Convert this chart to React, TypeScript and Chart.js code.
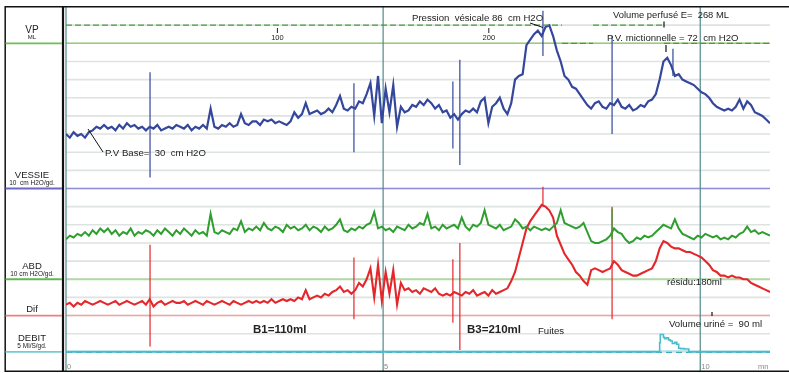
import React, { useEffect, useRef } from "react";
import { Chart, registerables } from "chart.js";

Chart.register(...registerables);

// ---- time base (minutes) ----
const DT = 0.06;
const T_MAX = 11.1;
const VOL_RATE = 30; // ml perfused per minute (top volume scale)

// ---- VESSIE pressure, cm H2O (one value every DT minutes) ----
const VESSIE = [
  30, 28, 31, 29, 30, 28, 31, 32, 34, 33,
  35, 33, 34, 32, 35, 33, 36, 34, 35, 33,
  34, 32, 34, 33, 35, 32, 33, 34, 33, 35,
  34, 33, 35, 32, 34, 33, 35, 33, 44, 34,
  33, 35, 34, 36, 34, 35, 41, 36, 35, 37,
  37, 35, 38, 37, 38, 36, 37, 36, 35, 37,
  42, 39, 41, 47, 41, 42, 43, 41, 42, 44,
  42, 46, 51, 44, 43, 45, 44, 48, 47, 52,
  58, 40, 62, 36, 55, 42, 57, 34, 45, 42,
  43, 46, 45, 48, 46, 49, 47, 44, 46, 42,
  43, 39, 41, 38, 41, 43, 42, 44, 42, 48,
  50, 36, 45, 47, 50, 44, 41, 47, 60, 62,
  63, 79, 82, 85, 87, 84, 89, 90, 84, 76,
  70, 62, 60, 56, 55, 52, 49, 46, 44, 47,
  48, 45, 44, 47, 46, 49, 45, 44, 46, 43,
  44, 46, 45, 48, 49, 52, 60, 70, 72, 68,
  62, 63, 60, 59, 58, 57, 55, 53, 52, 50,
  47, 45, 44, 43, 44, 43, 45, 49, 44, 48,
  46, 42, 41, 40, 38, 36,
];

// ---- ABD pressure, cm H2O ----
const ABD = [
  22, 24, 23, 25, 24, 26, 24, 27, 25, 28,
  26, 28, 25, 27, 24, 26, 25, 28, 24, 26,
  25, 27, 26, 24, 27, 25, 28, 26, 24, 27,
  25, 28, 26, 24, 27, 25, 26, 24, 36, 26,
  25, 27, 26, 25, 28, 27, 32, 26, 28, 27,
  29, 27, 31, 28, 27, 29, 28, 26, 30, 28,
  29, 27, 28, 30, 27, 29, 28, 26, 29, 27,
  28, 30, 33, 27, 26, 28, 27, 29, 28, 30,
  31, 37, 28, 29, 27, 28, 26, 29, 28, 27,
  30, 28, 29, 31, 30, 36, 28, 29, 27, 30,
  28, 29, 30, 28, 34, 29, 27, 30, 29, 31,
  38, 30, 29, 28, 30, 27, 28, 29, 33, 31,
  28, 29, 27, 29, 28, 27, 28, 27, 29, 31,
  38, 31, 30, 29, 28, 29, 31, 26, 21, 20,
  20, 21, 22, 24, 28, 26, 25, 22, 20, 21,
  23, 22, 24, 23, 24, 26, 28, 30, 29, 28,
  33, 28, 25, 24, 23, 22, 24, 23, 25, 24,
  23, 24, 22, 23, 22, 24, 23, 25, 26, 29,
  26, 27, 25, 26, 25, 24,
];

// ---- Dif (vesical - abdominal), cm H2O ----
const DIF = [
  6, 7, 5, 7, 6, 8, 7, 6, 7, 8,
  7, 6, 7, 8, 6, 7, 8, 7, 6, 7,
  8, 6, 9, 5, 7, 8, 6, 7, 8, 7,
  7, 8, 6, 7, 8, 7, 6, 8, 7, 6,
  7, 8, 7, 6, 8, 7, 6, 7, 8, 7,
  8, 7, 8, 7, 9, 7, 8, 9, 8, 9,
  8, 10, 9, 14, 9, 10, 11, 10, 12, 11,
  13, 14, 16, 13, 14, 12, 14, 18, 16, 20,
  26, 10, 28, 8, 24, 12, 25, 6, 18, 14,
  15, 13, 14, 12, 15, 14, 13, 15, 12, 11,
  12, 11, 13, 12, 11, 13, 12, 14, 11, 12,
  13, 11, 14, 12, 13, 14, 15, 19, 24, 32,
  40, 48, 52, 55, 58, 61, 60, 58, 54, 44,
  39, 34, 31, 28, 24, 22, 19, 17, 25, 26,
  25, 24, 25, 26, 30, 28, 25, 24, 23, 22,
  22, 23, 24, 25, 26, 30, 37, 41, 40, 38,
  37, 37, 36, 35, 35, 34, 33, 32, 30, 28,
  25, 24, 22, 22, 21, 22, 21, 21, 20, 20,
  18, 17, 16, 15, 14, 13,
];

// ---- DEBIT (flow), ml/s ----
const DEBIT_T = [0, 9.36, 9.37, 9.42, 9.44, 9.47, 9.5, 9.53, 9.56, 9.6, 9.63, 9.66, 9.69, 9.75, 9.82, 9.83, 11.1];
const DEBIT = [0, 0, 2.5, 4.8, 4.0, 3.6, 3.9, 3.3, 3.0, 2.3, 2.6, 2.1, 1.0, 0.9, 0.8, 0, 0];

// ---- artefact spikes (time, low, high) ----
const VES_SPIKE_T = [1.325, 4.54, 6.1, 6.21, 7.52, 8.61, 9.57];
const VES_SPIKE_LO = [6, 20, 22, 13, 73, 30, 62];
const VES_SPIKE_HI = [64, 58, 59, 71, 98, 84, 77];
const DIF_SPIKE_T = [1.325, 4.54, 6.1, 6.21, 7.52, 8.61];
const DIF_SPIKE_LO = [-17, -2, -4, -19, 60, -2];
const DIF_SPIKE_HI = [39, 32, 31, 40, 71, 60];
const ABD_SPIKE_T = [8.61];
const ABD_SPIKE_LO = [22];
const ABD_SPIKE_HI = [39];

// ---- VP (volume) dashed trace: segments in grid rows ----
const VP_T = [0, 7.82, 7.82, 8.31, 8.31, 9.43, 9.43, 11.1];
const VP_ROW = [19, 19, 18, 18, 19, 19, 18, 18];

// ---- tick labels ----
const TIME_TICKS = [0, 5, 10];
const TIME_LABELS = ["0", "5", "10"];
const VOLUME_TICKS = [100, 200];

const FONT = '"Liberation Sans", Arial, Helvetica, sans-serif';

const series = (arr: number[]) => arr.map((v, i) => ({ x: +(i * DT).toFixed(3), y: v }));
const spikes = (ts: number[], lo: number[], hi: number[]) =>
  ts.flatMap((t, i) => [
    { x: t, y: lo[i] },
    { x: t, y: hi[i] },
    { x: t, y: null as any },
  ]);
const segments = (ts: number[], vs: number[]) => {
  const out: any[] = [];
  for (let i = 0; i < ts.length; i += 2) {
    out.push({ x: ts[i], y: vs[i] }, { x: ts[i + 1], y: vs[i + 1] }, { x: ts[i + 1], y: null });
  }
  return out;
};

function line(ctx: CanvasRenderingContext2D, x1: number, y1: number, x2: number, y2: number, color: string, w: number, dash: number[] = []) {
  ctx.save();
  ctx.strokeStyle = color;
  ctx.lineWidth = w;
  ctx.setLineDash(dash);
  ctx.beginPath();
  ctx.moveTo(x1, y1);
  ctx.lineTo(x2, y2);
  ctx.stroke();
  ctx.restore();
}

function text(ctx: CanvasRenderingContext2D, s: string, x: number, y: number, size: number, opts: { align?: CanvasTextAlign; bold?: boolean; color?: string } = {}) {
  ctx.save();
  ctx.font = `${opts.bold ? "bold " : ""}${size}px ${FONT}`;
  ctx.fillStyle = opts.color || "#222";
  ctx.textAlign = opts.align || "left";
  ctx.textBaseline = "middle";
  ctx.fillText(s, x, y);
  ctx.restore();
}

const decor = {
  id: "decor",
  beforeDraw(chart: any) {
    const { ctx } = chart;
    ctx.save();
    ctx.fillStyle = "#fff";
    ctx.fillRect(0, 0, chart.width, chart.height);
    ctx.restore();
  },
  beforeDatasetsDraw(chart: any) {
    const { ctx, chartArea: a, scales } = chart;
    const xs = scales.x;
    const Y = (r: number) => scales.yRow.getPixelForValue(r);
    // row grid
    for (let k = 1; k <= 19; k++) line(ctx, a.left, Y(k), a.right, Y(k), "#dde3e0", 1.6);
    // channel baselines
    line(ctx, a.left, Y(18), a.right, Y(18), "#96d074", 1.6);
    line(ctx, a.left, Y(10), a.right, Y(10), "#8f8fd6", 1.6);
    line(ctx, a.left, Y(5), a.right, Y(5), "#b2d8a6", 1.8);
    line(ctx, a.left, Y(3), a.right, Y(3), "#f2a3a3", 1.6);
    line(ctx, a.left, Y(1) - 1, a.right, Y(1) - 1, "#abdfe8", 1.4);
    line(ctx, a.left, Y(1) + 0.6, a.right, Y(1) + 0.6, "#3aaebf", 1.3, [6, 4]);
    // time verticals
    TIME_TICKS.forEach((t) => {
      const x = xs.getPixelForValue(t);
      line(ctx, x, 7, x, 371, "#4f8888", 1.2);
    });
  },
  afterDatasetsDraw(chart: any) {
    const { ctx, scales } = chart;
    const xs = scales.x;
    const xv = scales.xVol;
    const Y = (r: number) => scales.yRow.getPixelForValue(r);

    // frame
    line(ctx, 5, 6.8, chart.width, 6.8, "#111", 1.6);
    line(ctx, 5, 371.3, chart.width, 371.3, "#111", 1.5);
    line(ctx, 5.2, 6, 5.2, 372, "#111", 1.5);
    line(ctx, 63, 6, 63, 372, "#111", 2.2);

    // left panel channel lines + labels
    const cx = 32;
    line(ctx, 5.5, Y(18), 62, Y(18), "#6cbf52", 1.8);
    line(ctx, 5.5, Y(10), 62, Y(10), "#6a6ac4", 1.8);
    line(ctx, 5.5, Y(5), 62, Y(5), "#62b954", 1.8);
    line(ctx, 5.5, Y(3), 62, Y(3), "#ee8080", 1.8);
    line(ctx, 5.5, Y(1), 62, Y(1), "#72ccd8", 1.8);
    text(ctx, "VP", cx, 30, 10, { align: "center" });
    text(ctx, "ML", cx, 37.5, 6, { align: "center" });
    text(ctx, "VESSIE", cx, 175.5, 9.5, { align: "center" });
    text(ctx, "10  cm H2O/gd.", cx, 183, 6.5, { align: "center" });
    text(ctx, "ABD", cx, 266.5, 9.5, { align: "center" });
    text(ctx, "10 cm H2O/gd.", cx, 274, 6.5, { align: "center" });
    text(ctx, "Dif", cx, 309, 9.5, { align: "center" });
    text(ctx, "DEBIT", cx, 338.5, 9.5, { align: "center" });
    text(ctx, "5 Ml/S/gd.", cx, 346, 6.5, { align: "center" });

    // top volume scale
    VOLUME_TICKS.forEach((v) => {
      const x = xv.getPixelForValue(v);
      line(ctx, x, 28, x, 33, "#222", 1);
      text(ctx, String(v), x, 37.5, 7.5, { align: "center" });
    });

    // time labels
    TIME_TICKS.forEach((t, i) => {
      const x = xs.getPixelForValue(t);
      text(ctx, TIME_LABELS[i], x + 1, 366.5, 7.5, { color: "#8a8a8a" });
    });
    text(ctx, "mn", 758, 366.5, 7.5, { color: "#8a8a8a" });

    // annotations
    text(ctx, "Pression  vésicale 86  cm H2O", 412, 18, 9.6);
    line(ctx, 530, 23, 543, 27.5, "#111", 1);
    text(ctx, "Volume perfusé E=  268 ML", 613, 15, 9.4);
    line(ctx, 664, 21.5, 664, 27.5, "#111", 1.2);
    text(ctx, "P.V. mictionnelle = 72  cm H2O", 607, 38.5, 9.6);
    line(ctx, 666, 45, 666, 52, "#111", 1.2);
    text(ctx, "P.V Base=  30  cm H2O", 105, 153, 9.6);
    line(ctx, 88, 129, 103, 152, "#111", 1);
    text(ctx, "B1=110ml", 253, 330, 11.5, { bold: true });
    text(ctx, "B3=210ml", 467, 330, 11.5, { bold: true });
    text(ctx, "Fuites", 538, 331, 9.6);
    text(ctx, "Volume uriné =  90 ml", 669, 324, 9.6);
    line(ctx, 712, 312, 712, 316, "#111", 1.2);
    text(ctx, "résidu:180ml", 667, 282.5, 9.6);
  },
};

export default function App() {
  const ref = useRef<HTMLCanvasElement | null>(null);
  useEffect(() => {
    if (!ref.current) return;
    const common = { pointRadius: 0, tension: 0, fill: false, spanGaps: false };
    const chart = new Chart(ref.current, {
      type: "line",
      data: {
        datasets: [
          { ...common, data: segments(VP_T, VP_ROW), yAxisID: "yRow", borderColor: "#4a9a3c", borderWidth: 1.3, borderDash: [6, 3] },
          { ...common, data: series(ABD), yAxisID: "yAbd", borderColor: "#2f9e2f", borderWidth: 2 },
          { ...common, data: spikes(ABD_SPIKE_T, ABD_SPIKE_LO, ABD_SPIKE_HI), yAxisID: "yAbd", borderColor: "#2f9e2f", borderWidth: 1.2 },
          { ...common, data: series(DIF), yAxisID: "yDif", borderColor: "#e3272b", borderWidth: 2.1 },
          { ...common, data: spikes(DIF_SPIKE_T, DIF_SPIKE_LO, DIF_SPIKE_HI), yAxisID: "yDif", borderColor: "#e3272b", borderWidth: 1.2 },
          { ...common, data: series(VESSIE), yAxisID: "yVes", borderColor: "#34479c", borderWidth: 2.2 },
          { ...common, data: spikes(VES_SPIKE_T, VES_SPIKE_LO, VES_SPIKE_HI), yAxisID: "yVes", borderColor: "#34479c", borderWidth: 1.2 },
          { ...common, data: DEBIT_T.map((t, i) => ({ x: t, y: DEBIT[i] })), yAxisID: "yDeb", borderColor: "#4bbccb", borderWidth: 1.6, stepped: "after" as any },
        ],
      },
      options: {
        animation: false,
        responsive: false,
        devicePixelRatio: 1,
        events: [],
        layout: { padding: { left: 66, right: 19, top: 7, bottom: 3 } },
        plugins: { legend: { display: false }, tooltip: { enabled: false } },
        scales: {
          x: { type: "linear", min: 0, max: T_MAX, display: false },
          xVol: { type: "linear", axis: "x", min: 0, max: T_MAX * VOL_RATE, display: false },
          yRow: { type: "linear", min: 0, max: 20, display: false },
          yVes: { type: "linear", min: -100, max: 100, display: false },
          yAbd: { type: "linear", min: -50, max: 150, display: false },
          yDif: { type: "linear", min: -30, max: 170, display: false },
          yDeb: { type: "linear", min: -5, max: 95, display: false },
        },
      } as any,
      plugins: [decor as any],
    });
    return () => chart.destroy();
  }, []);
  return (
    <div style={{ position: "fixed", left: 0, top: 0, width: 789, height: 373, background: "#fff" }}>
      <canvas ref={ref} width={789} height={373} style={{ display: "block", width: 789, height: 373 }} />
    </div>
  );
}
